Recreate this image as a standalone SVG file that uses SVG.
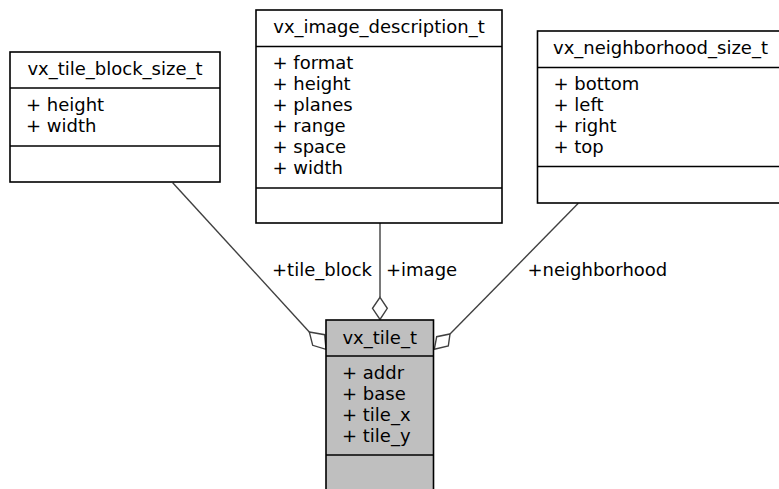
<svg xmlns="http://www.w3.org/2000/svg" width="779" height="489" viewBox="0 0 779 489">
  <style>
    .box { fill: #ffffff; stroke: #000000; stroke-width: 1.6; }
    .box.hl { fill: #bfbfbf; }
    .sep { stroke: #000000; stroke-width: 1.6; }
    text { font-family: "DejaVu Sans", "Liberation Sans", sans-serif; font-size: 18px; fill: #000000; }
    .title { text-anchor: middle; }
    .edge { fill: none; stroke: #404040; stroke-width: 1.4; }
    .agg { fill: #ffffff; stroke: #404040; stroke-width: 1.4; }
  </style>
  <rect width="779" height="489" fill="#ffffff"/>

  <g id="connectors">
    <path class="edge" d="M172.7,182.7 L309.3,332"/>
    <polygon class="agg" points="309.3,332 324.7,334.7 326,349.3 312.7,345.3"/>
    <path class="edge" d="M380,223 L380,297.3"/>
    <polygon class="agg" points="380,297.3 387.3,308.3 380,319.5 372.5,308.3"/>
    <path class="edge" d="M578.3,203.3 L450,334"/>
    <polygon class="agg" points="450,334 448.3,346 434.3,349.3 436.7,336.7"/>
    <text x="272" y="276">+tile_block</text>
    <text x="386" y="276">+image</text>
    <text x="527.5" y="276">+neighborhood</text>
  </g>

  <g id="vx_tile_block_size_t">
    <rect class="box" x="10" y="52" width="210" height="130"/>
    <line class="sep" x1="10" y1="88" x2="220" y2="88"/>
    <line class="sep" x1="10" y1="146" x2="220" y2="146"/>
    <text class="title" x="115" y="74.5">vx_tile_block_size_t</text>
    <text x="26" y="110.5">+ height</text>
    <text x="26" y="131.5">+ width</text>
  </g>

  <g id="vx_image_description_t">
    <rect class="box" x="256" y="10" width="246" height="213"/>
    <line class="sep" x1="256" y1="46.5" x2="502" y2="46.5"/>
    <line class="sep" x1="256" y1="188" x2="502" y2="188"/>
    <text class="title" x="379" y="32.5">vx_image_description_t</text>
    <text x="272.5" y="68.5">+ format</text>
    <text x="272.5" y="89.5">+ height</text>
    <text x="272.5" y="110.5">+ planes</text>
    <text x="272.5" y="131.5">+ range</text>
    <text x="272.5" y="152.5">+ space</text>
    <text x="272.5" y="173.5">+ width</text>
  </g>

  <g id="vx_neighborhood_size_t">
    <rect class="box" x="537.5" y="31" width="260" height="172"/>
    <line class="sep" x1="537.5" y1="67.5" x2="790" y2="67.5"/>
    <line class="sep" x1="537.5" y1="166.5" x2="790" y2="166.5"/>
    <text x="553" y="53.5">vx_neighborhood_size_t</text>
    <text x="553.5" y="90">+ bottom</text>
    <text x="553.5" y="111">+ left</text>
    <text x="553.5" y="132">+ right</text>
    <text x="553.5" y="153">+ top</text>
  </g>

  <g id="vx_tile_t">
    <rect class="box hl" x="326" y="320" width="107.5" height="180"/>
    <line class="sep" x1="326" y1="356" x2="433.5" y2="356"/>
    <line class="sep" x1="326" y1="455" x2="433.5" y2="455"/>
    <text class="title" x="379.7" y="343.5">vx_tile_t</text>
    <text x="342" y="378.5">+ addr</text>
    <text x="342" y="399.5">+ base</text>
    <text x="342" y="420.5">+ tile_x</text>
    <text x="342" y="441.5">+ tile_y</text>
  </g>
</svg>
